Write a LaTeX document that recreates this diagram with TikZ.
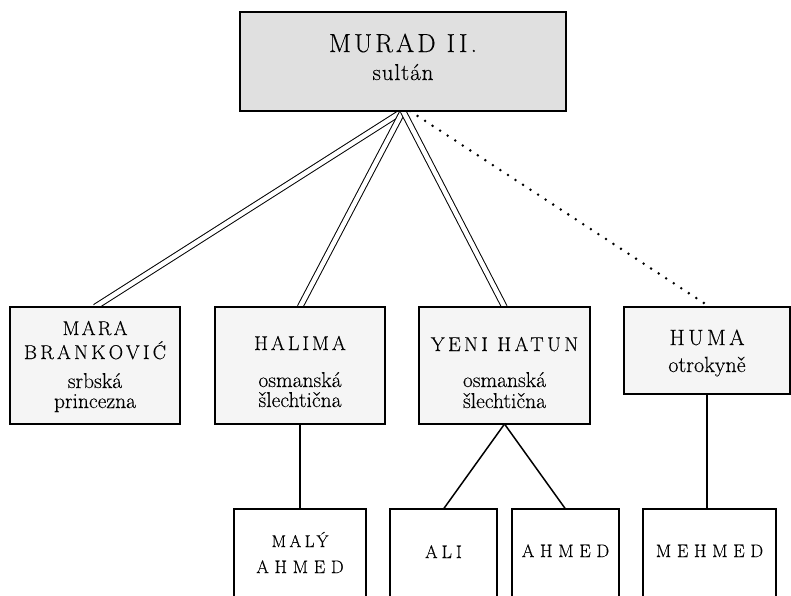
\documentclass[tikz,border=0pt]{standalone}
\usepackage{fontspec}
\setmainfont{Latin Modern Roman}[RawFeature={embolden=0.3}]
\usetikzlibrary{backgrounds}
\definecolor{topgray}{HTML}{E0E0E0}
\definecolor{wifegray}{HTML}{F5F5F5}
\newcommand\capsA[3]{{\fontsize{#1}{#1}\selectfont\addfontfeatures{LetterSpace=#2}#3}}
\newcommand\lowA[2]{{\fontsize{#1}{#1}\selectfont #2}}
\begin{document}
\begin{tikzpicture}[x=1pt,y=-1pt,
  box/.style={draw=black, line width=1.6pt, rectangle, inner sep=0pt, outer sep=0pt},
  topbox/.style={box, fill=topgray, minimum width=326pt, minimum height=99pt},
  wifebox/.style={box, fill=wifegray},
  childbox/.style={box, fill=white, line width=1.4pt},
  txt/.style={anchor=base, inner sep=0pt, outer sep=0pt, text=black},
  marriage/.style={double, double distance=4.5pt, line width=1pt},
  concubine/.style={line width=2.8pt, line cap=round, dash pattern=on 0pt off 9pt},
  descent/.style={line width=1.5pt}]
\path[use as bounding box] (0,0) rectangle (791,595);
\begin{scope}
\clip (0,0) rectangle (791,595);
% boxes
\node[topbox] (murad) at (403,61.5) {};
\node[wifebox, minimum width=170pt, minimum height=117pt] (mara) at (95,365.5) {};
\node[wifebox, minimum width=170pt, minimum height=117pt] (halima) at (300,365.5) {};
\node[wifebox, minimum width=171pt, minimum height=117pt] (yeni) at (504.5,365.5) {};
\node[wifebox, minimum width=166pt, minimum height=87pt] (huma) at (707,350.5) {};
\node[childbox, minimum width=132pt, minimum height=95pt] (maly) at (300,556.5) {};
\node[childbox, minimum width=107pt, minimum height=95pt] (ali) at (443.5,556.5) {};
\node[childbox, minimum width=107pt, minimum height=95pt] (ahmed) at (565.5,556.5) {};
\node[childbox, minimum width=133pt, minimum height=95pt] (mehmed) at (709.5,556.5) {};
% texts
\node[txt] (murad-a) at (403,52) {\capsA{26}{12}{MURAD II.}};
\node[txt] (murad-b) at (403,80) {\capsA{23}{4}{sultán}};
\node[txt] (mara-a) at (95,335) {\capsA{20}{11}{MARA}};
\node[txt] (mara-b) at (95,359) {\capsA{20}{16}{BRANKOVIĆ}};
\node[txt] (mara-c) at (95,388) {\lowA{21.5}{srbská}};
\node[txt] (mara-d) at (95,408) {\lowA{21.5}{princezna}};
\node[txt] (halima-a) at (300,350) {\capsA{20}{15}{HALIMA}};
\node[txt] (halima-b) at (300,387) {\lowA{21.5}{osmanská}};
\node[txt] (halima-c) at (300,407) {\lowA{21.5}{šlechtična}};
\node[txt] (yeni-a) at (504.5,351) {\capsA{20}{17}{YENI HATUN}};
\node[txt] (yeni-b) at (504.5,387) {\lowA{21.5}{osmanská}};
\node[txt] (yeni-c) at (504.5,408) {\lowA{21.5}{šlechtična}};
\node[txt] (huma-a) at (707,345) {\capsA{22}{16}{HUMA}};
\node[txt] (huma-b) at (707,372) {\lowA{22}{otrokyně}};
\node[txt] (maly-a) at (300,547) {\capsA{17}{20}{MALÝ}};
\node[txt] (maly-b) at (300,573) {\capsA{18}{32}{AHMED}};
\node[txt] (ali-a) at (443.5,558) {\capsA{18}{22}{ALI}};
\node[txt] (ahmed-a) at (565.5,557) {\capsA{18}{32}{AHMED}};
\node[txt] (mehmed-a) at (709.5,557) {\capsA{18}{32}{MEHMED}};
% connectors
\begin{pgfonlayer}{background}
\draw[marriage] (murad.south) -- (mara.north);
\draw[marriage] (murad.south) -- (halima.north);
\draw[marriage] (murad.south) -- (yeni.north);
\draw[concubine] ([xshift=7pt]murad.south) -- ([xshift=3pt]huma.north);
\draw[descent] (halima.south) -- (maly.north);
\draw[descent] (yeni.south) -- (ali.north);
\draw[descent] (yeni.south) -- (ahmed.north);
\draw[descent] (huma.south) -- (huma.south |- mehmed.north);
\end{pgfonlayer}
\end{scope}
\end{tikzpicture}
\end{document}
